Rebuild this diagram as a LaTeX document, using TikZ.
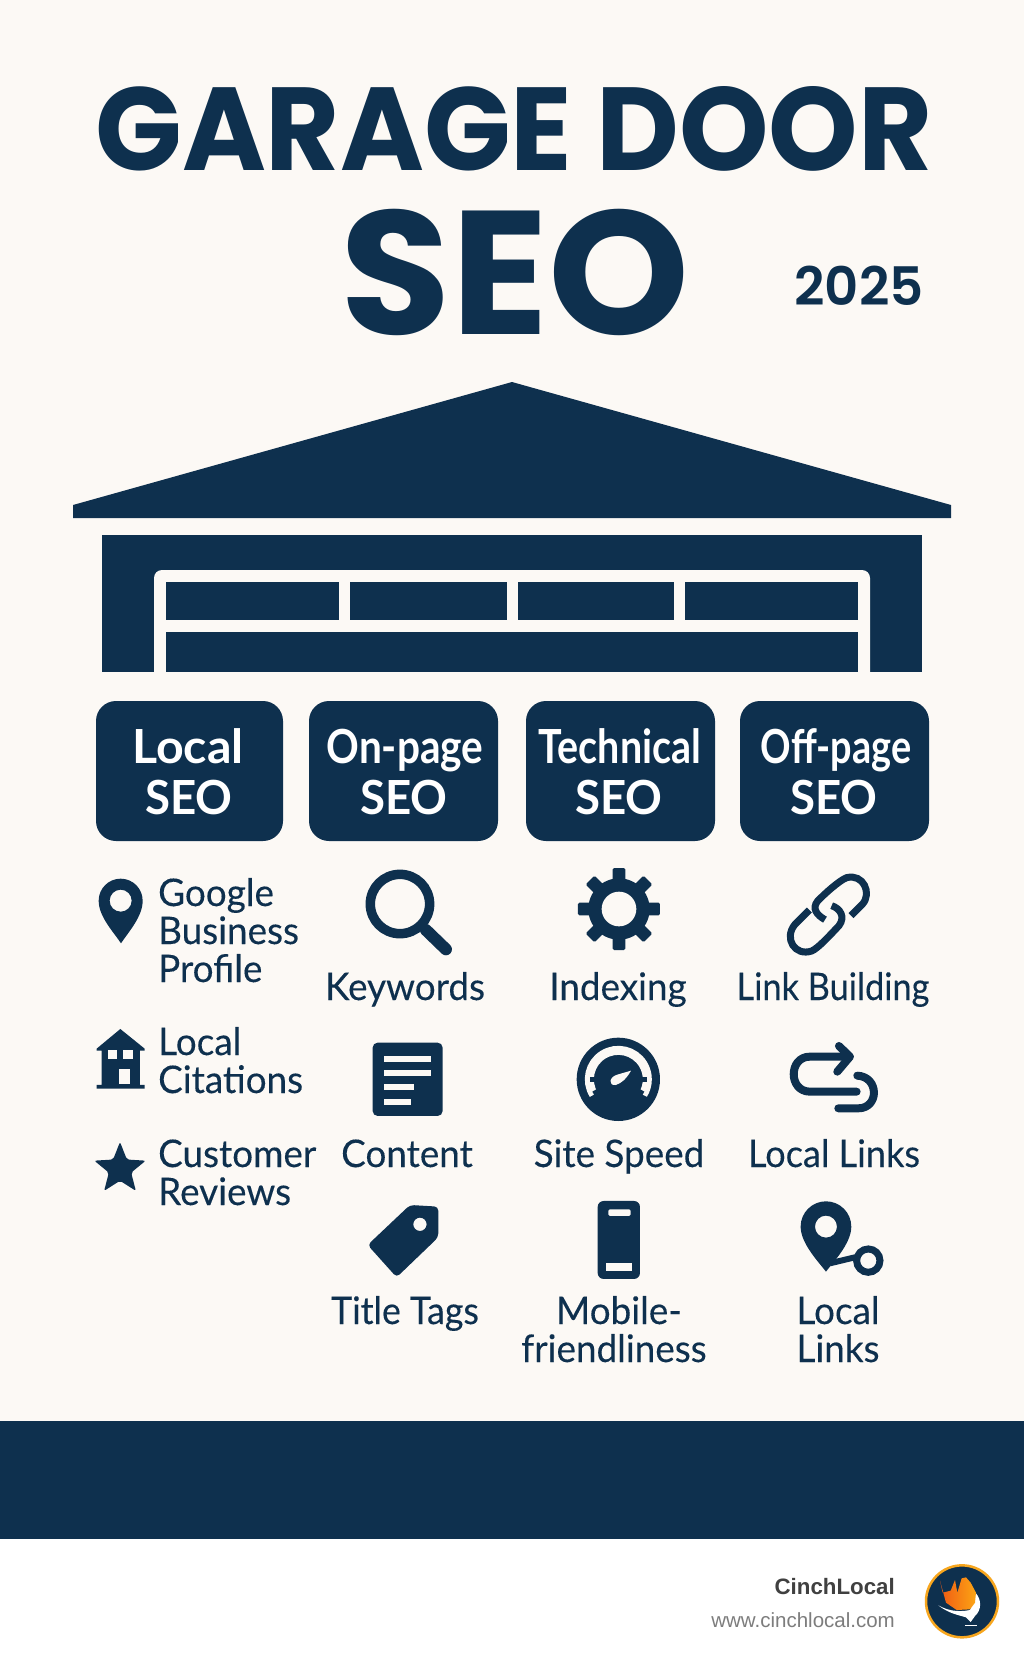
\documentclass[tikz,border=0pt]{standalone}
\usepackage{fontspec}
\usepackage{xcolor}
\usepackage{tikz}
\usetikzlibrary{shapes.geometric}
\setmainfont[FakeStretch=0.97, FakeBold=0.2, BoldFeatures={FakeBold=0}]{Lato}
\newfontfamily\titlefont{Poppins Bold}
\newfontfamily\yearfont{Poppins SemiBold}
\newfontfamily\footfont{Liberation Sans}
\definecolor{door-navy}{RGB}{14, 48, 78}
\definecolor{page-cream}{RGB}{252, 249, 245}
\definecolor{foot-dark}{RGB}{64, 64, 64}
\definecolor{foot-grey}{RGB}{125, 125, 125}
\definecolor{logo-ring}{RGB}{247, 166, 30}
\definecolor{logo-red}{RGB}{240, 90, 20}
\definecolor{logo-amber}{RGB}{252, 165, 20}
\tikzset{
  navy/.style={fill=door-navy, draw=none},
  cream/.style={fill=page-cream, draw=none},
  catbox/.style={navy, rounded corners=20pt},
  cattext/.style={anchor=base, inner sep=0pt, text=white, font=\fontsize{47}{50}\selectfont\bfseries},
  itemtext/.style={anchor=base, inner sep=0pt, text=door-navy, font=\fontsize{38}{38}\selectfont},
  sidetext/.style={itemtext, anchor=base west},
  iconline/.style={draw=door-navy, fill=none, line width=8pt, line cap=round, line join=round}
}
\begin{document}
\begin{tikzpicture}[x=1pt, y=-1pt]
\useasboundingbox (0,0) rectangle (1024,1666);
\fill[page-cream] (0,0) rectangle (1024,1539);
\fill[white] (0,1539) rectangle (1024,1666);

\node[anchor=base, inner sep=0pt, text=door-navy, font=\fontsize{118}{118}\titlefont] (title_main) at (514,170) {\scalebox{0.965}[1]{GARAGE DOOR}};
\node[anchor=base, inner sep=0pt, text=door-navy, font=\fontsize{176}{176}\titlefont] (title_seo) at (515,334) {\scalebox{1.02}[1]{SEO}};
\node[anchor=base, inner sep=0pt, text=door-navy, font=\fontsize{53}{53}\yearfont] (title_year) at (859,305) {2025};

\fill[navy] (512,382) -- (951,505) -- (951,518) -- (73,518) -- (73,505) -- cycle;
\fill[navy] (102,535) rectangle (922,672);
\fill[cream, rounded corners=8pt] (154,672) -- (154,570) -- (870,570) -- (870,672);
\fill[navy] (166,582) rectangle (339,620);
\fill[navy] (350,582) rectangle (507,620);
\fill[navy] (518,582) rectangle (674,620);
\fill[navy] (685,582) rectangle (858,620);
\fill[navy] (166,632) rectangle (858,672);

\fill[catbox] (96,701) rectangle (283,841);
\fill[catbox] (309,701) rectangle (498,841);
\fill[catbox] (526,701) rectangle (715,841);
\fill[catbox] (740,701) rectangle (929,841);

\node[cattext] (local_top) at (188,763) {\scalebox{1.06}[1]{Local}};
\node[cattext] (local_seo) at (189,814) {SEO};
\node[cattext] (onpage_top) at (405,763) {\scalebox{0.89}[1]{On-page}};
\node[cattext] (onpage_seo) at (404,814) {SEO};
\node[cattext] (tech_top) at (620,763) {\scalebox{0.865}[1]{Technical}};
\node[cattext] (tech_seo) at (619,814) {SEO};
\node[cattext] (offpage_top) at (836,763) {\scalebox{0.83}[1]{Off-page}};
\node[cattext] (offpage_seo) at (834,814) {SEO};

\node[sidetext] (gbp_one) at (158,906) {Google};
\node[sidetext] (gbp_two) at (158,944) {Business};
\node[sidetext] (gbp_three) at (158,982) {Profile};
\node[sidetext] (cite_one) at (158,1055) {Local};
\node[sidetext] (cite_two) at (158,1093) {Citations};
\node[sidetext] (review_one) at (158,1167) {Customer};
\node[sidetext] (review_two) at (158,1205) {Reviews};

\node[itemtext] (keywords) at (405,1000) {Keywords};
\node[itemtext] (content) at (407,1167) {Content};
\node[itemtext] (title_tags) at (405,1324) {\scalebox{0.97}[1]{Title Tags}};
\node[itemtext] (indexing) at (618,1000) {Indexing};
\node[itemtext] (site_speed) at (619,1167) {Site Speed};
\node[itemtext] (mobile_one) at (619,1324) {Mobile-};
\node[itemtext] (mobile_two) at (614,1362) {friendliness};
\node[itemtext] (link_building) at (833,1000) {\scalebox{0.93}[1]{Link Building}};
\node[itemtext] (local_links) at (834,1167) {\scalebox{0.98}[1]{Local Links}};
\node[itemtext] (links_one) at (838,1324) {Local};
\node[itemtext] (links_two) at (838,1362) {Links};

\begin{scope}[shift={(70,860)}, scale=0.3333]
\fill[navy, even odd rule] (153,250) .. controls (130,215) and (86,170) .. (86,122) arc (180:360:66) .. controls (218,170) and (176,215) .. (153,250) -- cycle (152,122) circle (33);
\fill[navy] (151,507) -- (224,566) -- (224,572) -- (210,572) -- (210,675) -- (224,675) -- (224,686) -- (80,686) -- (80,675) -- (95,675) -- (95,572) -- (80,572) -- (80,566) -- cycle;
\fill[cream] (113,570) rectangle (141,597);
\fill[cream] (160,570) rectangle (190,597);
\fill[cream] (146,627) rectangle (180,673);
\draw[door-navy, line width=9.5pt] (990,132) circle (89);
\draw[door-navy, line width=12pt, line cap=round] (1068,210) -- (1128,268);
\fill[navy, rounded corners=5pt] (908,548) rectangle (1118,768);
\fill[cream] (942,587) rectangle (1083,605);
\fill[cream] (942,630) rectangle (1083,648);
\fill[cream] (942,673) rectangle (1032,690);
\fill[cream] (942,718) rectangle (1022,735);
\fill[navy, rounded corners=4pt, even odd rule] (1105,1132) -- (1105,1040) -- (1020,1035) -- (893,1155) -- (980,1252) -- cycle (1050,1093) circle (20);
\end{scope}
\node[star, star points=5, star point ratio=2.3, navy, rounded corners=2pt, minimum size=54pt, inner sep=0pt] (star_icon) at (120,1169) {};

\begin{scope}[shift={(520,860)}, scale=0.3333]
\fill[navy] (297,147) circle (92);
\foreach \ang in {0,45,...,315} {
  \fill[navy, rounded corners=1.5pt, rotate around={\ang:(297,147)}] (278,24) rectangle (316,80);
}
\fill[cream] (297,147) circle (52);
\fill[navy, rounded corners=6pt] (233,1023) rectangle (360,1257);
\fill[cream, rounded corners=1.5pt] (265,1048) rectangle (332,1068);
\fill[cream] (257,1208) rectangle (337,1232);
\draw[iconline] (985,590) -- (870,590) .. controls (805,590) and (805,695) .. (870,695) -- (1010,695);
\draw[iconline] (957,558) -- (990,590) -- (952,635);
\draw[iconline] (1012,647) .. controls (1078,650) and (1078,745) .. (1015,745) -- (955,745);
\fill[navy, even odd rule] (918,1235) .. controls (895,1205) and (842,1150) .. (842,1100) arc (180:360:76) .. controls (994,1150) and (941,1205) .. (918,1235) -- cycle (918,1100) circle (33);
\draw[door-navy, line width=6pt] (930,1210) -- (1005,1192);
\draw[door-navy, line width=7pt] (1045,1202) circle (35);
\end{scope}

\begin{scope}[shift={(775,865)}, scale=0.3333]
\draw[door-navy, line width=7pt] (228,152) -- (262,118) .. controls (292,85) and (265,25) .. (215,38) .. controls (195,45) and (150,85) .. (128,108) .. controls (110,130) and (125,150) .. (150,164);
\draw[door-navy, line width=7pt] (103,135) -- (60,178) .. controls (25,220) and (60,275) .. (110,258) .. controls (130,250) and (170,205) .. (192,182) .. controls (212,155) and (195,130) .. (170,122);
\end{scope}

\begin{scope}[shift={(565,1030)}, scale=0.3333]
\fill[navy] (160,148) circle (125);
\draw[page-cream, line width=9pt] (160,148)+(148:87) arc (148:392:87);
\foreach \ang in {180,210,...,360} {
  \fill[navy, rotate around={\ang:(160,148)}] (215,141) rectangle (246,155);
}
\fill[page-cream] (198,122) -- (160,133) .. controls (130,140) and (130,168) .. (152,165) .. controls (170,160) and (185,145) .. cycle;
\end{scope}

\fill[navy] (0,1421) rectangle (1024,1539);
\node[anchor=base east, inner sep=0pt, text=foot-dark, font=\fontsize{22.3}{24}\footfont\bfseries] (foot_name) at (895,1594) {CinchLocal};
\node[anchor=base east, inner sep=0pt, text=foot-grey, font=\fontsize{20.5}{24}\footfont] (foot_url) at (895,1627) {www.cinchlocal.com};

\begin{scope}[shift={(920,1560)}, scale=0.3333]
\draw[logo-ring, fill=door-navy, line width=2.5pt] (126,124) circle (108);
\fill[white] (55,136) .. controls (85,160) and (115,165) .. (138,172) -- (152,186) -- (165,168) .. controls (185,150) and (185,120) .. (168,100) -- (150,150) .. controls (110,158) and (80,150) .. cycle;
\path[left color=logo-red, right color=logo-amber] (60,62) -- (68,98) -- (92,92) -- (105,60) -- (112,98) -- (125,55) -- (138,52) -- (152,68) -- (168,98) -- (165,128) -- (150,148) -- (110,150) -- (78,128) -- cycle;
\fill[white] (135,195) rectangle (170,198);
\end{scope}
\end{tikzpicture}
\end{document}
